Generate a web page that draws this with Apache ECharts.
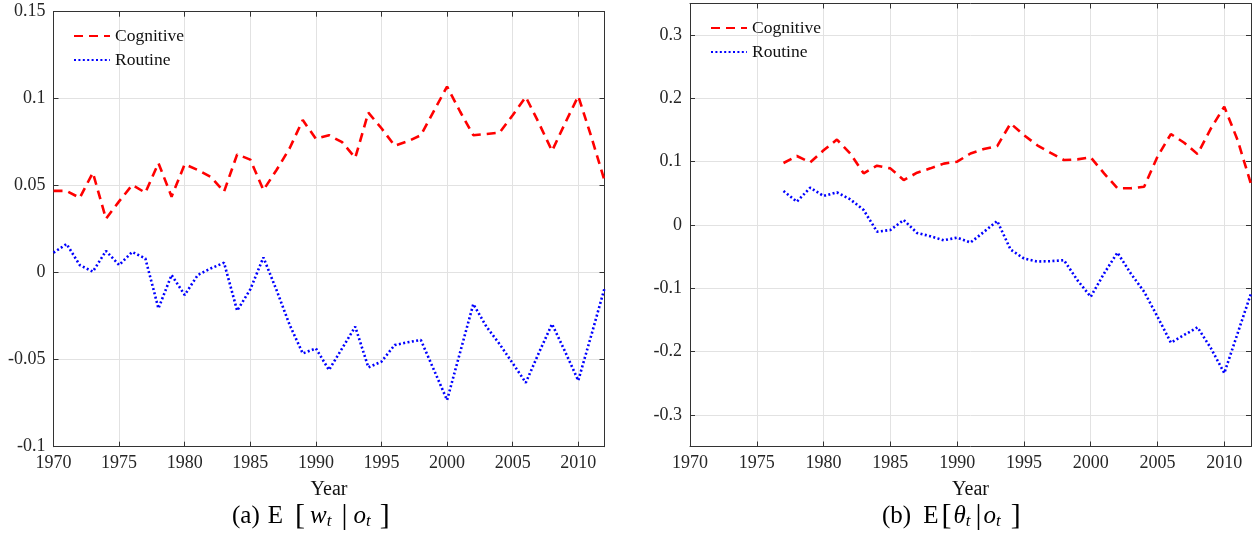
<!DOCTYPE html>
<html><head><meta charset="utf-8">
<script src="https://cdn.jsdelivr.net/npm/echarts@6/dist/echarts.min.js"></script>
<style>html,body{margin:0;padding:0;background:#fff}#c{width:1257px;height:538px}</style>
</head><body><div id="c"></div>
<script>
// ---- Data ----
const yearsA = [1970,1971,1972,1973,1974,1975,1976,1977,1978,1979,1980,1981,1982,1983,1984,1985,1986,1987,1988,1989,1990,1991,1992,1993,1994,1995,1996,1997,1998,1999,2000,2001,2002,2003,2004,2005,2006,2007,2008,2009,2010,2011,2012];
const cognitiveA = [0.047,0.047,0.043,0.0575,0.031,0.041,0.0504,0.046,0.063,0.0437,0.0623,0.059,0.055,0.0466,0.068,0.065,0.0475,0.059,0.0715,0.0877,0.077,0.079,0.075,0.066,0.092,0.083,0.073,0.0755,0.079,0.093,0.107,0.0925,0.079,0.0797,0.0805,0.0905,0.101,0.086,0.070,0.086,0.1015,0.078,0.053];
const routineA = [0.0115,0.0165,0.0044,0.0006,0.0125,0.0044,0.0119,0.0082,-0.0205,-0.0013,-0.0128,-0.0013,0.0025,0.0057,-0.0218,-0.0096,0.0088,-0.010,-0.030,-0.0464,-0.0435,-0.0559,-0.0435,-0.031,-0.0544,-0.0511,-0.0416,-0.040,-0.0387,-0.0559,-0.0732,-0.0456,-0.018,-0.031,-0.041,-0.052,-0.0632,-0.046,-0.0295,-0.0454,-0.062,-0.0358,-0.009];

const yearsB = [1977,1978,1979,1980,1981,1982,1983,1984,1985,1986,1987,1988,1989,1990,1991,1992,1993,1994,1995,1996,1997,1998,1999,2000,2001,2002,2003,2004,2005,2006,2007,2008,2009,2010,2011,2012];
const cognitiveB = [0.098,0.109,0.099,0.118,0.135,0.113,0.0816,0.0937,0.0895,0.071,0.0826,0.0895,0.097,0.100,0.113,0.120,0.1247,0.1605,0.142,0.126,0.114,0.1026,0.1037,0.1068,0.0816,0.058,0.058,0.0605,0.108,0.1437,0.13,0.112,0.1526,0.187,0.134,0.0647];
const routineB = [0.0537,0.0368,0.059,0.0458,0.0516,0.0405,0.0237,-0.0105,-0.0079,0.0079,-0.0126,-0.0178,-0.0241,-0.020,-0.0278,-0.011,0.0063,-0.0388,-0.053,-0.0577,-0.0572,-0.0556,-0.0871,-0.1134,-0.0766,-0.0436,-0.0766,-0.1055,-0.1449,-0.1858,-0.1738,-0.1617,-0.1948,-0.2341,-0.1711,-0.1081];

const xTicks = [1970,1975,1980,1985,1990,1995,2000,2005,2010];
const yTicksA = [-0.1,-0.05,0,0.05,0.1,0.15];
const yTicksB = [-0.3,-0.2,-0.1,0,0.1,0.2,0.3];
const seriesNames = ['Cognitive','Routine'];

// ---- Styles ----
const FONT = '"Liberation Serif","DejaVu Serif",serif';
const AX = '#333333';
const GRIDC = '#e2e2e2';
const LBL = '#262626';

function xAxis(gridIndex, pos) {
  const bottom = pos === 'bottom';
  return {
    type: 'value', gridIndex, position: pos, min: 1970, max: 2012, interval: 5,
    axisLine: {show: true, onZero: false, lineStyle: {color: AX, width: 1}},
    axisTick: {show: true, inside: true, length: 5, customValues: xTicks, lineStyle: {color: AX}},
    axisLabel: {show: bottom, customValues: xTicks, margin: 8, fontFamily: FONT, fontSize: 18, color: LBL,
      formatter: v => String(v)},
    splitLine: {show: bottom, lineStyle: {color: GRIDC, width: 1}},
    name: bottom ? 'Year' : '', nameLocation: 'middle', nameGap: 33,
    nameTextStyle: {fontFamily: FONT, fontSize: 20, color: '#111'}
  };
}
function yAxis(gridIndex, pos, min, max, interval, ticks) {
  const left = pos === 'left';
  return {
    type: 'value', gridIndex, position: pos, min, max, interval,
    axisLine: {show: true, onZero: false, lineStyle: {color: AX, width: 1}},
    axisTick: {show: true, inside: true, length: 5, customValues: ticks, lineStyle: {color: AX}},
    axisLabel: {show: left, customValues: ticks, margin: 8, fontFamily: FONT, fontSize: 18, color: LBL,
      formatter: v => String(Math.round(v * 1000) / 1000)},
    splitLine: {show: left, lineStyle: {color: GRIDC, width: 1}}
  };
}
function line(name, xs, ys, xi, yi, dashed) {
  return {
    name, type: 'line', xAxisIndex: xi, yAxisIndex: yi, symbol: 'none', showSymbol: false,
    data: xs.map((x, i) => [x, ys[i]]),
    lineStyle: dashed ? {color: '#ff0000', width: 2.6, type: [9, 6]}
                      : {color: '#0000ff', width: 2.6, type: [2, 2.4]},
    itemStyle: {color: dashed ? '#ff0000' : '#0000ff'},
    emphasis: {disabled: true}, animation: false
  };
}
const legendBase = {
  orient: 'vertical', itemWidth: 36, itemHeight: 14, itemGap: 6, padding: 0, data: seriesNames,
  itemStyle: {opacity: 0},
  textStyle: {fontFamily: FONT, fontSize: 17.5, color: '#111'}, selectedMode: false
};
function capRich(pads) {
  const base = {fontFamily: FONT, fill: '#000'};
  return {
    p: Object.assign({fontSize: 25, padding: [0, pads[0], 0, 0]}, base),
    e: Object.assign({fontSize: 25, padding: [0, pads[1], 0, 0]}, base),
    bo: Object.assign({fontSize: 30, padding: [0, pads[2], 0, 0]}, base),
    i: Object.assign({fontSize: 25, fontStyle: 'italic'}, base),
    s1: Object.assign({fontSize: 17, fontStyle: 'italic', padding: [12, pads[3], 0, 0]}, base),
    bar: Object.assign({fontSize: 30, padding: [0, pads[4], 0, 0]}, base),
    s2: Object.assign({fontSize: 17, fontStyle: 'italic', padding: [12, pads[5], 0, 0]}, base),
    bc: Object.assign({fontSize: 30}, base)
  };
}

const option = {
  backgroundColor: '#ffffff',
  animation: false,
  grid: [
    {left: 53.5, top: 11.7, width: 551, height: 435, containLabel: false},
    {left: 690, top: 3.5, width: 561, height: 443, containLabel: false}
  ],
  xAxis: [xAxis(0, 'bottom'), xAxis(0, 'top'), xAxis(1, 'bottom'), xAxis(1, 'top')],
  yAxis: [
    yAxis(0, 'left', -0.1, 0.15, 0.05, yTicksA), yAxis(0, 'right', -0.1, 0.15, 0.05, yTicksA),
    yAxis(1, 'left', -0.35, 0.35, 0.05, yTicksB), yAxis(1, 'right', -0.35, 0.35, 0.05, yTicksB)
  ],
  legend: [
    Object.assign({left: 73, top: 27}, legendBase),
    Object.assign({left: 710, top: 19}, legendBase)
  ],
  series: [
    line('Cognitive', yearsA, cognitiveA, 0, 0, true),
    line('Routine', yearsA, routineA, 0, 0, false),
    line('Cognitive', yearsB, cognitiveB, 2, 2, true),
    line('Routine', yearsB, routineB, 2, 2, false)
  ],
  graphic: [
    {type: 'text', left: 232, top: 501, style: {
      text: '{p|(a)}{e|E}{bo|[}{i|w}{s1|t}{bar||}{i|o}{s2|t}{bc|]}',
      font: '25px ' + FONT, fill: '#000', rich: capRich([8, 12, 5, 10, 6, 9])
    }},
    {type: 'text', left: 882, top: 501, style: {
      text: '{p|(b)}{e|E}{bo|[}{i|θ}{s1|t}{bar||}{i|o}{s2|t}{bc|]}',
      font: '25px ' + FONT, fill: '#000', rich: capRich([12, 3, 2, 5, 2, 10])
    }}
  ]
};
const chart = echarts.init(document.getElementById('c'), null, {renderer: 'canvas'});
chart.setOption(option);
</script>
</body></html>
